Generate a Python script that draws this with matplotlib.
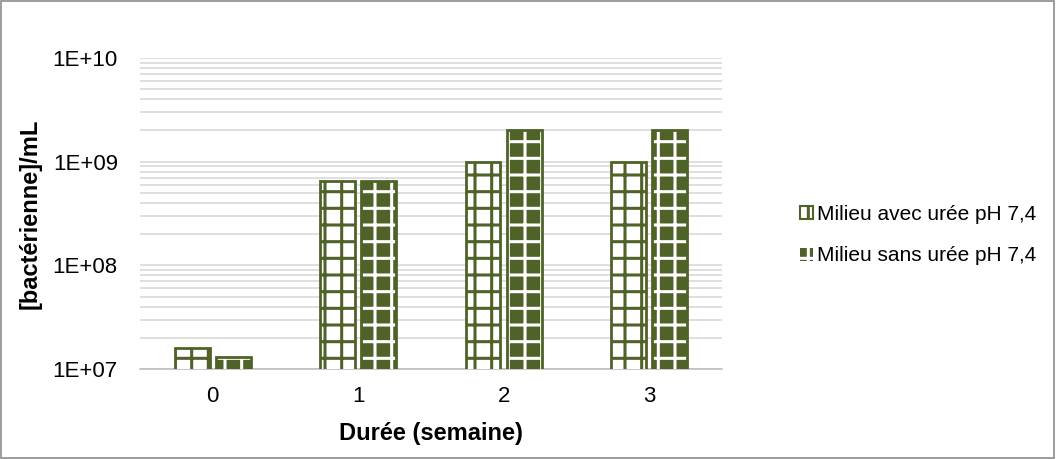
import numpy as np
import matplotlib
matplotlib.use("Agg")
import matplotlib.pyplot as plt
from matplotlib.ticker import FixedLocator, LogLocator, NullFormatter
from matplotlib.patches import Patch

plt.rcParams["font.family"] = ["Liberation Sans", "DejaVu Sans"]
plt.rcParams["hatch.linewidth"] = 2.2

# === Data ===
semaines = ["0", "1", "2", "3"]
avec_uree = [1.6e7, 6.5e8, 1.0e9, 1.0e9]
sans_uree = [1.3e7, 6.5e8, 2.0e9, 2.0e9]
labels = ["Milieu avec urée pH 7,4", "Milieu sans urée pH 7,4"]

green = "#4f6228"
x = np.arange(len(semaines))
w = 0.24
gap = 0.022

fig = plt.figure(figsize=(10.56, 4.59), dpi=100)
ax = fig.add_axes([0.1326, 0.196, 0.551, 0.678])
ax.set_yscale("log")

# bars avec urée : fond blanc, quadrillage vert
ax.bar(x - w / 2 - gap, avec_uree, w, color="white", edgecolor=green,
       hatch="+", linewidth=0, zorder=3)
ax.bar(x - w / 2 - gap, avec_uree, w, fill=False, edgecolor=green,
       linewidth=2, zorder=4)
# bars sans urée : fond vert, quadrillage blanc
ax.bar(x + w / 2 + gap, sans_uree, w, color=green, edgecolor="white",
       hatch="+", linewidth=0, zorder=3)
ax.bar(x + w / 2 + gap, sans_uree, w, fill=False, edgecolor=green,
       linewidth=2, zorder=4)

ax.set_ylim(1e7, 1e10)
ax.set_xlim(-0.5, 3.5)
ax.yaxis.set_major_locator(FixedLocator([1e7, 1e8, 1e9, 1e10]))
ax.set_yticklabels(["1E+07", "1E+08", "1E+09", "1E+10"])
ax.yaxis.set_minor_locator(LogLocator(base=10, subs=np.arange(2, 10)))
ax.yaxis.set_minor_formatter(NullFormatter())
ax.grid(True, which="both", axis="y", color="#d9d9d9", linewidth=1.2, zorder=0)
ax.tick_params(axis="y", which="both", length=0, labelsize=16, pad=16)
ax.set_xticks(x)
ax.set_xticklabels(semaines)
ax.tick_params(axis="x", length=0, labelsize=16, pad=12)

for s in ["top", "right", "left"]:
    ax.spines[s].set_visible(False)
ax.spines["bottom"].set_color("#bfbfbf")
ax.spines["bottom"].set_linewidth(1.2)

ax.set_xlabel("Durée (semaine)", fontsize=17, fontweight="bold", labelpad=11)
ax.set_ylabel("[bactérienne]/mL", fontsize=17, fontweight="bold", labelpad=8)

handles = [
    Patch(facecolor="white", edgecolor=green, hatch="|", linewidth=1.5),
    Patch(facecolor=green, edgecolor="white", hatch="+", linewidth=0),
]
fig.legend(handles, labels, loc="center left", bbox_to_anchor=(0.748, 0.488),
           frameon=False, fontsize=15, handlelength=0.6, handleheight=0.6,
           handletextpad=0.2, labelspacing=1.1, borderpad=0)

# cadre gris autour de la figure
fig.patches.append(plt.Rectangle((0.001, 0.002), 0.997, 0.995,
                                 transform=fig.transFigure, fill=False,
                                 edgecolor="#8c8c8c", linewidth=1.2))

fig.savefig("out.png", dpi=100)
